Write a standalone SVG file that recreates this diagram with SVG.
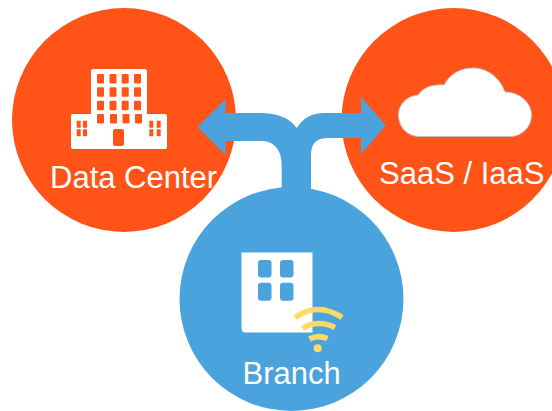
<svg xmlns="http://www.w3.org/2000/svg" width="552" height="411" viewBox="0 0 552 411">
<style>
.orange{fill:#FF5317}
.blue{fill:#4AA3DC}
.white{fill:#fff}
.lbl{font-family:"Liberation Sans",Arial,sans-serif;font-size:31px;fill:#fff}
.wifi{fill:none;stroke:#FFD966;stroke-width:5.500}
</style>
<rect width="552" height="411" fill="#fff"/>
<g id="node-datacenter">
<circle class="orange" cx="124" cy="120" r="112"/>
<path class="white" fill-rule="evenodd" d="M93 69H145Q147 69 147 71V114H165Q167 114 167 116V147Q167 149 165 149H73Q71 149 71 147V116Q71 114 73 114H91V71Q91 69 93 69Z
M98 74h5a1 1 0 0 1 1 1v7.500a1 1 0 0 1 -1 1h-5a1 1 0 0 1 -1 -1v-7.500a1 1 0 0 1 1 -1Z
M110.500 74h5a1 1 0 0 1 1 1v7.500a1 1 0 0 1 -1 1h-5a1 1 0 0 1 -1 -1v-7.500a1 1 0 0 1 1 -1Z
M122.700 74h5a1 1 0 0 1 1 1v7.500a1 1 0 0 1 -1 1h-5a1 1 0 0 1 -1 -1v-7.500a1 1 0 0 1 1 -1Z
M135 74h5a1 1 0 0 1 1 1v7.500a1 1 0 0 1 -1 1h-5a1 1 0 0 1 -1 -1v-7.500a1 1 0 0 1 1 -1Z
M98 87.300h5a1 1 0 0 1 1 1v7.500a1 1 0 0 1 -1 1h-5a1 1 0 0 1 -1 -1v-7.500a1 1 0 0 1 1 -1Z
M110.500 87.300h5a1 1 0 0 1 1 1v7.500a1 1 0 0 1 -1 1h-5a1 1 0 0 1 -1 -1v-7.500a1 1 0 0 1 1 -1Z
M122.700 87.300h5a1 1 0 0 1 1 1v7.500a1 1 0 0 1 -1 1h-5a1 1 0 0 1 -1 -1v-7.500a1 1 0 0 1 1 -1Z
M135 87.300h5a1 1 0 0 1 1 1v7.500a1 1 0 0 1 -1 1h-5a1 1 0 0 1 -1 -1v-7.500a1 1 0 0 1 1 -1Z
M98 100.700h5a1 1 0 0 1 1 1v7.500a1 1 0 0 1 -1 1h-5a1 1 0 0 1 -1 -1v-7.500a1 1 0 0 1 1 -1Z
M110.500 100.700h5a1 1 0 0 1 1 1v7.500a1 1 0 0 1 -1 1h-5a1 1 0 0 1 -1 -1v-7.500a1 1 0 0 1 1 -1Z
M122.700 100.700h5a1 1 0 0 1 1 1v7.500a1 1 0 0 1 -1 1h-5a1 1 0 0 1 -1 -1v-7.500a1 1 0 0 1 1 -1Z
M135 100.700h5a1 1 0 0 1 1 1v7.500a1 1 0 0 1 -1 1h-5a1 1 0 0 1 -1 -1v-7.500a1 1 0 0 1 1 -1Z
M98 114h5a1 1 0 0 1 1 1v7.500a1 1 0 0 1 -1 1h-5a1 1 0 0 1 -1 -1v-7.500a1 1 0 0 1 1 -1Z
M111 114h5a1 1 0 0 1 1 1v7.500a1 1 0 0 1 -1 1h-5a1 1 0 0 1 -1 -1v-7.500a1 1 0 0 1 1 -1Z
M123.500 114h5a1 1 0 0 1 1 1v7.500a1 1 0 0 1 -1 1h-5a1 1 0 0 1 -1 -1v-7.500a1 1 0 0 1 1 -1Z
M136 114h5a1 1 0 0 1 1 1v7.500a1 1 0 0 1 -1 1h-5a1 1 0 0 1 -1 -1v-7.500a1 1 0 0 1 1 -1Z
M115 129h7a2 2 0 0 1 2 2v13a2 2 0 0 1 -2 2h-7a2 2 0 0 1 -2 -2v-13a2 2 0 0 1 2 -2Z
M76.700 120.700h4v7h-4Z M83 120.700h4v7h-4Z M76.700 129.300h4v7h-4Z M83 129.300h4v7h-4Z
M149.300 120.700h4v7h-4Z M156.700 120.700h4v7h-4Z M149.300 129.300h4v7h-4Z M156.700 129.300h4v7h-4Z"/>
<text class="lbl" x="50" y="188">Data Center</text>
</g>
<g id="node-saas">
<circle class="orange" cx="453.500" cy="120" r="112"/>
<path class="white" stroke="#BFBFBF" stroke-width="1" d="M420 136.500C406 136.500 398.500 126 398.500 115C398.500 103 408 96 418 95C423 88 431 84 444 85C450 74 460 68 473 68C488 68 500 78 505 92C520 92 531.500 103 531.500 115C531.500 127 522 136.500 510 136.500Z"/>
<text class="lbl" x="379" y="184">SaaS / IaaS</text>
</g>
<g id="node-branch">
<circle class="blue" cx="291.500" cy="299" r="112"/>
<path class="white" fill-rule="evenodd" d="M241.500 252.500H312.500V332.500H246Q241.500 332.500 241.500 328Z
M261 260h7.500a3 3 0 0 1 3 3v11.500a3 3 0 0 1 -3 3h-7.500a3 3 0 0 1 -3 -3v-11.500a3 3 0 0 1 3 -3Z
M283 260h7.500a3 3 0 0 1 3 3v11.500a3 3 0 0 1 -3 3h-7.500a3 3 0 0 1 -3 -3v-11.500a3 3 0 0 1 3 -3Z
M261 282.700h7.500a3 3 0 0 1 3 3v12a3 3 0 0 1 -3 3h-7.500a3 3 0 0 1 -3 -3v-12a3 3 0 0 1 3 -3Z
M283 282.700h7.500a3 3 0 0 1 3 3v12a3 3 0 0 1 -3 3h-7.500a3 3 0 0 1 -3 -3v-12a3 3 0 0 1 3 -3Z"/>
<path class="wifi" d="M295 317.500Q318 301.500 342 317.500"/>
<path class="wifi" d="M302.500 328.500Q318 319 335 327.500"/>
<path class="wifi" d="M309.500 339Q318 334.500 327.500 338.500"/>
<circle cx="317.700" cy="348.300" r="4" fill="#FFD966"/>
<text class="lbl" x="242.500" y="384">Branch</text>
</g>
<g id="connectors">
<path class="blue" d="M197.500 127L225.500 99V113H260C277 113 290 118 296.700 128C303 118 312 113 325 113H361V97L385.700 125.500L361 154V138H328C317 138 311 143 311 155V200H281.700V165C281.700 150 274 141 262 141H225.500V155Z"/>
</g>
</svg>
